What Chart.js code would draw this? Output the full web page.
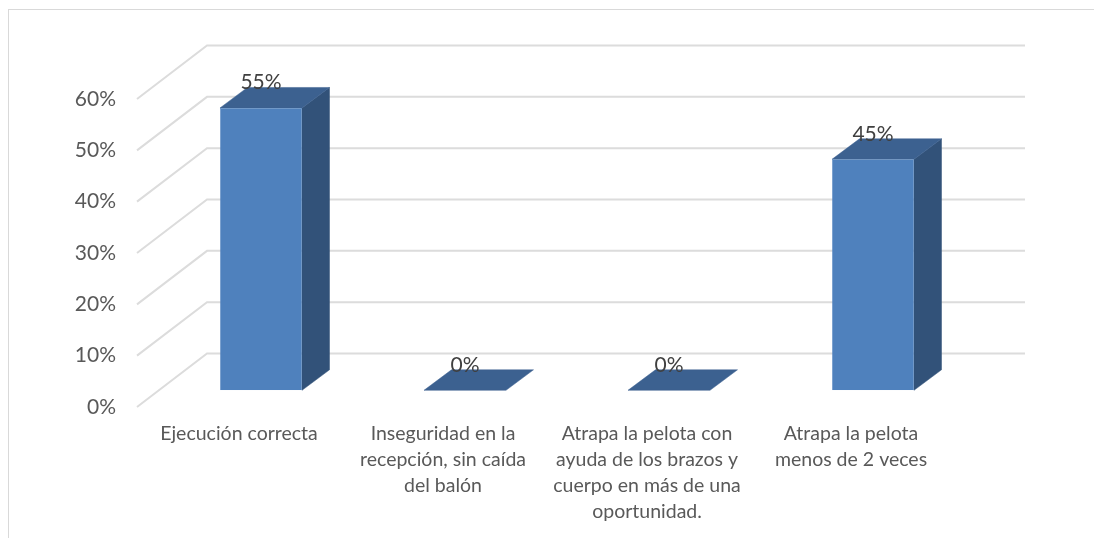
<!DOCTYPE html>
<html><head><meta charset="utf-8">
<style>
html,body{margin:0;padding:0;background:#fff;width:1094px;height:538px;overflow:hidden}
#wrap{position:relative;width:1094px;height:538px}
#frame{position:absolute;left:8px;top:9px;right:0;bottom:0;border-left:1.5px solid #d9d9d9;border-top:1.5px solid #d9d9d9}
canvas{position:absolute;left:0;top:0}
</style>
<script src="https://cdn.jsdelivr.net/npm/chart.js@4"></script>
</head><body>
<div id="wrap"><div id="frame"></div><canvas id="c" width="1094" height="538"></canvas></div>
<script>
const categories = [
  "Ejecución correcta",
  ["Inseguridad en la","recepción, sin caída","del balón"],
  ["Atrapa la pelota con","ayuda de los brazos y","cuerpo en más de una","oportunidad."],
  ["Atrapa la pelota","menos de 2 veces"]
];
const values = [55, 0, 0, 45];
const valueLabels = ["55%", "0%", "0%", "45%"];
const yMin = 0, yMax = 60, yStep = 10;

const FONT = "Lato";
const wallDepth = {x: 70, y: -53.5};
const barShift = {x: 22, y: -16.7};
const barDepth = {x: 27.5, y: -20.5};
const colors = {grid:"#dcdcdc", front:"#4f81bd", top:"#3c6190", side:"#325279", edge:"#5a8ac2", label:"#404040", axis:"#595959"};

function poly(ctx, pts, fill){
  ctx.beginPath();
  pts.forEach((p,i)=> i?ctx.lineTo(p[0],p[1]):ctx.moveTo(p[0],p[1]));
  ctx.closePath();
  ctx.fillStyle = fill; ctx.fill();
  ctx.strokeStyle = fill; ctx.lineWidth = 0.5; ctx.stroke();
}

const depthPlugin = {
  id:"depth",
  beforeDatasetsDraw(chart){
    const {ctx, scales:{x,y}} = chart;
    ctx.save();
    ctx.strokeStyle = colors.grid; ctx.lineWidth = 2;
    for(let v=yMin; v<=yMax; v+=yStep){
      const py = y.getPixelForValue(v);
      ctx.beginPath();
      ctx.moveTo(x.left, py);
      ctx.lineTo(x.left+wallDepth.x, py+wallDepth.y);
      ctx.lineTo(x.right+wallDepth.x+2, py+wallDepth.y);
      ctx.stroke();
    }
    ctx.translate(barShift.x, barShift.y);
    chart.getDatasetMeta(0).data.forEach(b=>{
      const l=b.x-b.width/2, r=b.x+b.width/2, t=b.y, base=b.base, dx=barDepth.x, dy=barDepth.y;
      if(base-t>0.5) poly(ctx,[[r,t],[r+dx,t+dy],[r+dx,base+dy],[r,base]],colors.side);
      poly(ctx,[[l,t],[l+dx,t+dy],[r+dx,t+dy],[r,t]],colors.top);
    });
  },
  afterDatasetsDraw(chart){
    const {ctx} = chart;
    ctx.restore();
    ctx.save();
    ctx.fillStyle = colors.label;
    ctx.font = "21px "+FONT;
    ctx.textAlign = "center"; ctx.textBaseline = "middle";
    chart.getDatasetMeta(0).data.forEach((b,i)=>{
      ctx.fillText(valueLabels[i], b.x+barShift.x, b.y+barShift.y-25.5);
    });
    ctx.restore();
  }
};

new Chart(document.getElementById("c"),{
  type:"bar",
  data:{labels:categories,datasets:[{data:values,backgroundColor:colors.front,borderColor:colors.edge,borderWidth:0.6,
    categoryPercentage:1,barPercentage:0.402}]},
  plugins:[depthPlugin],
  options:{
    responsive:false,animation:false,
    layout:{padding:{left:0,top:99,right:141,bottom:0}},
    plugins:{legend:{display:false},tooltip:{enabled:false},title:{display:false}},
    scales:{
      x:{
        grid:{display:false},border:{display:false},
        afterFit(s){s.height=131;},
        ticks:{color:colors.axis,font:{family:FONT,size:19.5,lineHeight:26/19.5},maxRotation:0,minRotation:0,autoSkip:false,padding:6}
      },
      y:{
        min:yMin,max:yMax,
        grid:{display:false,drawTicks:false},border:{display:false},
        afterFit(s){s.width=137;},
        ticks:{stepSize:yStep,color:colors.axis,font:{family:FONT,size:21},padding:21,callback:v=>v+"%"}
      }
    }
  }
});
</script>
</body></html>
